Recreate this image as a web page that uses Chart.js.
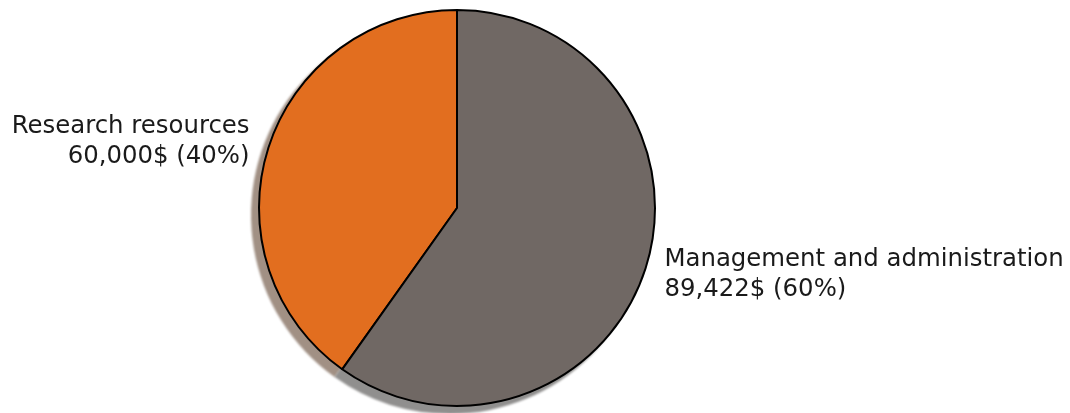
<!DOCTYPE html>
<html>
<head>
<meta charset="utf-8">
<script src="https://cdn.jsdelivr.net/npm/chart.js@4"></script>
<style>
	html, body { margin: 0; padding: 0; background: #fff; }
	#wrap { width: 1070px; height: 413px; }
</style>
</head>
<body>
<div id="wrap"><canvas id="pieChart"></canvas></div>
<script>
const categories = ["Research resources", "Management and administration"];
const amounts = [60000, 89422];
const sliceColors = ["#e26e1f", "#706864"];

const total = amounts.reduce((a, b) => a + b, 0);
// orange slice ends at the top, going counterclockwise like matplotlib
const startRotation = 360 * (1 - amounts[0] / total);

function shadowOf(hex) {
	const r = parseInt(hex.slice(1, 3), 16) * 0.3;
	const g = parseInt(hex.slice(3, 5), 16) * 0.3;
	const b = parseInt(hex.slice(5, 7), 16) * 0.3;
	return `rgba(${r},${g},${b},0.5)`;
}

const shadowPlugin = {
	id: "pieShadow",
	beforeDatasetsDraw(chart) {
		const ctx = chart.ctx;
		const meta = chart.getDatasetMeta(0);
		ctx.save();
		ctx.filter = "blur(0.8px)";
		meta.data.forEach((arc, i) => {
			const p = arc.getProps(["x", "y", "startAngle", "endAngle", "outerRadius"], true);
			const cx = p.x - 7, cy = p.y + 7;
			ctx.beginPath();
			ctx.moveTo(cx, cy);
			ctx.arc(cx, cy, p.outerRadius + 1, p.startAngle, p.endAngle);
			ctx.closePath();
			ctx.fillStyle = shadowOf(sliceColors[i]);
			ctx.fill();
		});
		ctx.restore();
	},
};

const labelPlugin = {
	id: "pieLabels",
	afterDatasetsDraw(chart) {
		const ctx = chart.ctx;
		const meta = chart.getDatasetMeta(0);
		ctx.save();
		ctx.font = "24.4px 'DejaVu Sans'";
		ctx.fillStyle = "#1a1a1a";
		ctx.textBaseline = "middle";
		meta.data.forEach((arc, i) => {
			const p = arc.getProps(["x", "y", "startAngle", "endAngle", "outerRadius"], true);
			const mid = (p.startAngle + p.endAngle) / 2;
			const lx = p.x + 1.1 * p.outerRadius * Math.cos(mid);
			const ly = p.y + 1.1 * p.outerRadius * Math.sin(mid);
			ctx.textAlign = Math.cos(mid) >= 0 ? "left" : "right";
			const pct = Math.round((amounts[i] / total) * 100);
			const lines = [
				categories[i],
				`${amounts[i].toLocaleString("en-US")}$ (${pct}%)`,
			];
			const lh = 30;
			lines.forEach((txt, k) => {
				ctx.fillText(txt, lx, ly + (k - (lines.length - 1) / 2) * lh);
			});
		});
		ctx.restore();
	},
};

new Chart(document.getElementById("pieChart"), {
	type: "pie",
	data: {
		labels: categories,
		datasets: [
			{
				data: amounts,
				backgroundColor: sliceColors,
				borderColor: "#000",
				borderWidth: 2,
				hoverOffset: 0,
			},
		],
	},
	options: {
		responsive: true,
		maintainAspectRatio: false,
		animation: false,
		rotation: startRotation,
		layout: { padding: { top: 9, bottom: 6, left: 200, right: 356 } },
		plugins: {
			legend: { display: false },
			tooltip: { enabled: false },
		},
	},
	plugins: [shadowPlugin, labelPlugin],
});
</script>
</body>
</html>
